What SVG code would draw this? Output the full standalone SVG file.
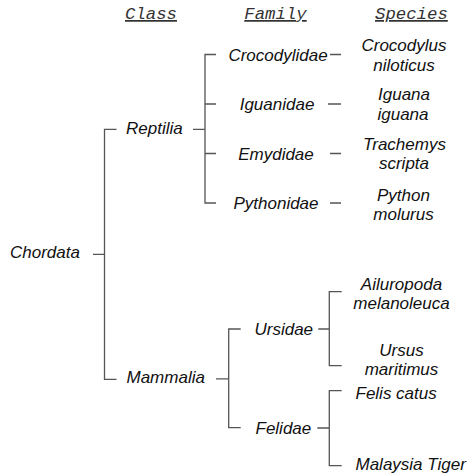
<svg xmlns="http://www.w3.org/2000/svg" width="470" height="474" viewBox="0 0 470 474">
<style>
.t{font-family:"Liberation Sans",Arial,sans-serif;font-style:italic;font-size:17px;fill:#111}
.m{text-anchor:middle}
.h{font-family:"Liberation Mono","Courier New",monospace;font-style:italic;font-size:17.33px;fill:#333;text-decoration:underline}
.c{fill:none;stroke:#555;stroke-width:1.3}
</style>
<rect width="470" height="474" fill="#fff"/>
<g id="headers">
<text class="h" x="125" y="19">Class</text>
<text class="h" x="244.3" y="19">Family</text>
<text class="h" x="375" y="19">Species</text>
</g>
<g id="connectors">
<path class="c" d="M93,254.3H104.5M116.5,129.3H104.5V379.3H116.5"/>
<path class="c" d="M193,129.3H205M216,54.5H205V203H216M205,104H216M205,153.5H216"/>
<path class="c" d="M330,54.5H341M328,104H341M330,153.5H341M330,203H341"/>
<path class="c" d="M216,378.8H228.7M240.7,329H228.7V427.7H240.7"/>
<path class="c" d="M318.3,329H329.3M341.7,291.7H329.3V365.7H341.7"/>
<path class="c" d="M317.3,428H329.3M341.7,390.7H329.3V465.7H341.7"/>
</g>
<g id="chordata"><text class="t" x="10" y="258">Chordata</text></g>
<g id="reptilia"><text class="t" x="126" y="133.5">Reptilia</text></g>
<g id="mammalia"><text class="t" x="126.5" y="383">Mammalia</text></g>
<g id="crocodylidae"><text class="t m" x="278" y="60.7">Crocodylidae</text></g>
<g id="iguanidae"><text class="t m" x="277" y="110">Iguanidae</text></g>
<g id="emydidae"><text class="t m" x="276" y="159.5">Emydidae</text></g>
<g id="pythonidae"><text class="t m" x="276" y="209">Pythonidae</text></g>
<g id="ursidae"><text class="t" x="254.5" y="335">Ursidae</text></g>
<g id="felidae"><text class="t" x="255.5" y="434">Felidae</text></g>
<g id="crocodylus"><text class="t m" x="404" y="51">Crocodylus</text><text class="t m" x="404" y="71">niloticus</text></g>
<g id="iguana"><text class="t m" x="404" y="100">Iguana</text><text class="t m" x="403" y="120">iguana</text></g>
<g id="trachemys"><text class="t m" x="404.5" y="150">Trachemys</text><text class="t m" x="404" y="169">scripta</text></g>
<g id="python"><text class="t m" x="403.5" y="201">Python</text><text class="t m" x="403.5" y="220">molurus</text></g>
<g id="ailuropoda"><text class="t m" x="401.5" y="290">Ailuropoda</text><text class="t m" x="401.5" y="308.5">melanoleuca</text></g>
<g id="ursus"><text class="t m" x="401.5" y="356">Ursus</text><text class="t m" x="401.5" y="375">maritimus</text></g>
<g id="felis"><text class="t" x="355.5" y="399.3">Felis catus</text></g>
<g id="tiger"><text class="t" x="355.5" y="470">Malaysia Tiger</text></g>
</svg>
